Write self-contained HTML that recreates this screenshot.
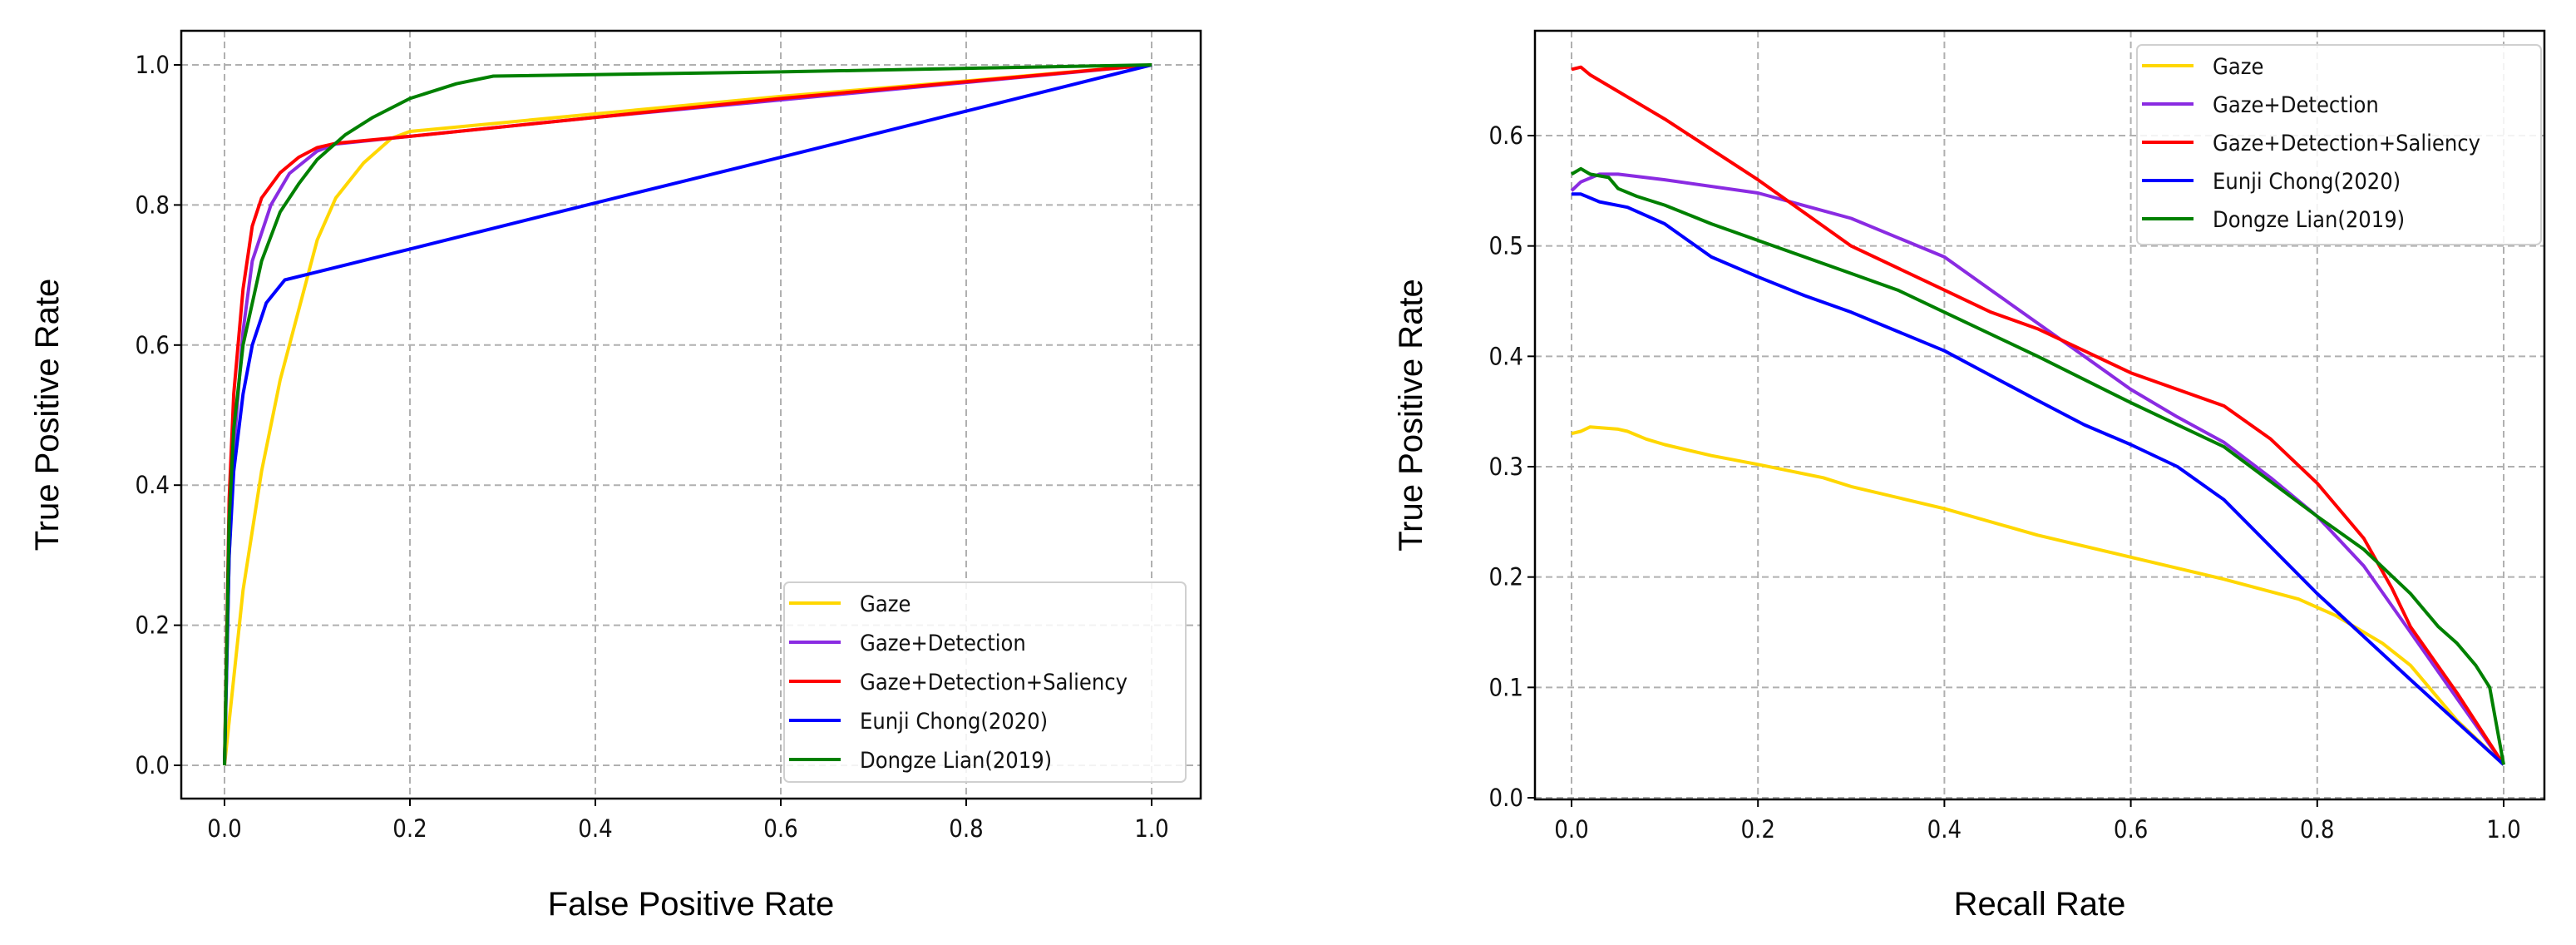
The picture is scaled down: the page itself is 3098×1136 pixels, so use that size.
<!DOCTYPE html>
<html><head><meta charset="utf-8"><style>
body{margin:0;background:#fff;}
svg{display:block;font-family:"DejaVu Sans Condensed","Liberation Sans Narrow","Liberation Sans",sans-serif;}
.tick{font-size:29px;fill:#111;}
.lab{font-size:40px;fill:#000;font-family:"Liberation Sans",sans-serif;}
.leg{font-size:27px;fill:#111;}
</style></head><body>
<svg id="c" width="3098" height="1136" viewBox="0 0 3098 1136" xmlns="http://www.w3.org/2000/svg"></svg>
<script>
const names=["Gaze","Gaze+Detection","Gaze+Detection+Saliency","Eunji Chong(2020)","Dongze Lian(2019)"];
const colors=["#ffd700","#8a2be2","#ff0000","#0000ff","#008000"];
const rocGaze=[[0,0],[0.02,0.25],[0.04,0.42],[0.06,0.55],[0.08,0.65],[0.1,0.75],[0.12,0.81],[0.15,0.86],[0.18,0.895],[0.2,0.905],[0.4,0.93],[0.6,0.955],[0.8,0.977],[1,1]];
const rocGD=[[0,0],[0.005,0.3],[0.01,0.45],[0.02,0.62],[0.03,0.72],[0.05,0.8],[0.07,0.845],[0.1,0.877],[0.12,0.887],[0.2,0.898],[0.4,0.925],[0.6,0.95],[0.8,0.975],[1,1]];
const rocGDS=[[0,0],[0.005,0.38],[0.01,0.53],[0.02,0.68],[0.03,0.77],[0.04,0.81],[0.06,0.846],[0.08,0.868],[0.1,0.882],[0.12,0.888],[0.2,0.898],[0.4,0.925],[0.6,0.952],[0.8,0.976],[1,1]];
const rocChong=[[0,0],[0.005,0.3],[0.01,0.42],[0.02,0.53],[0.03,0.6],[0.045,0.66],[0.065,0.693],[0.2,0.737],[0.4,0.803],[0.6,0.868],[0.8,0.934],[1,1]];
const rocLian=[[0,0],[0.005,0.35],[0.01,0.48],[0.02,0.6],[0.04,0.72],[0.06,0.79],[0.08,0.83],[0.1,0.865],[0.13,0.9],[0.16,0.925],[0.2,0.952],[0.25,0.973],[0.29,0.984],[0.6,0.99],[1,1]];
const prGaze=[[0,0.33],[0.01,0.332],[0.02,0.336],[0.05,0.334],[0.06,0.332],[0.08,0.325],[0.1,0.32],[0.15,0.31],[0.2,0.302],[0.27,0.29],[0.3,0.282],[0.4,0.262],[0.5,0.238],[0.6,0.218],[0.7,0.198],[0.78,0.18],[0.82,0.165],[0.87,0.14],[0.9,0.12],[0.95,0.07],[1,0.03]];
const prGD=[[0,0.55],[0.01,0.558],[0.03,0.565],[0.05,0.565],[0.1,0.56],[0.2,0.548],[0.3,0.525],[0.4,0.49],[0.45,0.46],[0.5,0.43],[0.55,0.4],[0.6,0.37],[0.65,0.345],[0.7,0.322],[0.75,0.29],[0.8,0.255],[0.85,0.21],[0.9,0.15],[0.95,0.09],[1,0.03]];
const prGDS=[[0,0.66],[0.01,0.662],[0.02,0.655],[0.05,0.64],[0.1,0.615],[0.2,0.56],[0.3,0.5],[0.4,0.46],[0.45,0.44],[0.5,0.425],[0.55,0.405],[0.6,0.385],[0.7,0.355],[0.75,0.325],[0.8,0.285],[0.85,0.235],[0.88,0.19],[0.9,0.155],[0.95,0.095],[1,0.03]];
const prChong=[[0,0.547],[0.01,0.547],[0.03,0.54],[0.06,0.535],[0.1,0.52],[0.15,0.49],[0.2,0.472],[0.25,0.455],[0.3,0.44],[0.4,0.405],[0.5,0.36],[0.55,0.338],[0.6,0.32],[0.65,0.3],[0.7,0.27],[0.8,0.185],[0.9,0.107],[1,0.03]];
const prLian=[[0,0.565],[0.01,0.57],[0.02,0.565],[0.04,0.562],[0.05,0.552],[0.07,0.545],[0.1,0.537],[0.15,0.52],[0.2,0.505],[0.3,0.475],[0.35,0.46],[0.4,0.44],[0.5,0.4],[0.6,0.358],[0.7,0.318],[0.8,0.255],[0.85,0.225],[0.9,0.185],[0.93,0.155],[0.95,0.14],[0.97,0.12],[0.985,0.1],[1,0.03]];
const xTicks=[0,0.2,0.4,0.6,0.8,1.0];
const rocYTicks=[0,0.2,0.4,0.6,0.8,1.0];
const prYTicks=[0,0.1,0.2,0.3,0.4,0.5,0.6];

const NS="http://www.w3.org/2000/svg";
const svg=document.getElementById('c');
function mk(tag,attrs,parent,txt){const e=document.createElementNS(NS,tag);for(const k in attrs)e.setAttribute(k,attrs[k]);if(txt!==undefined)e.textContent=txt;(parent||svg).appendChild(e);return e;}

function panel(o){
  const g=mk('g',{});
  
  
  const sx=v=>o.x0+(v-o.xmin)*(o.x1-o.x0)/(o.xmax-o.xmin);
  const sy=v=>o.y0+(v-o.ymin)*(o.y1-o.y0)/(o.ymax-o.ymin);
  xTicks.forEach(t=>{
    const l=mk('line',{x1:sx(t),x2:sx(t),y1:o.top,y2:o.bot,stroke:'#b0b0b0','stroke-width':2,'stroke-dasharray':'8,5'},g);
    
    mk('line',{x1:sx(t),x2:sx(t),y1:o.bot,y2:o.bot+9,stroke:'#000','stroke-width':2},g);
    const tx=mk('text',{x:sx(t),y:o.bot+46,'text-anchor':'middle',class:'tick'},g,t.toFixed(1));
    
  });
  o.yt.forEach(t=>{
    const l=mk('line',{x1:o.left,x2:o.right,y1:sy(t),y2:sy(t),stroke:'#b0b0b0','stroke-width':2,'stroke-dasharray':'8,5'},g);
    
    mk('line',{x1:o.left-9,x2:o.left,y1:sy(t),y2:sy(t),stroke:'#000','stroke-width':2},g);
    const tx=mk('text',{x:o.left-14,y:sy(t)+10,'text-anchor':'end',class:'tick'},g,t.toFixed(1));
    
  });
  o.series.forEach((s,i)=>{
    const p=mk('polyline',{points:s.map(d=>sx(d[0]).toFixed(1)+','+sy(d[1]).toFixed(1)).join(' '),fill:'none',stroke:colors[i],'stroke-width':4,'stroke-linejoin':'round'},g);
    
    
  });
  const fr=mk('rect',{x:o.left,y:o.top,width:o.right-o.left,height:o.bot-o.top,fill:'none',stroke:'#000','stroke-width':2.5},g);
  
  const xl=mk('text',{x:(o.left+o.right)/2,y:1100,'text-anchor':'middle',class:'lab'},g,o.xlab);
  
  const yx=o.ylx, ycy=(o.top+o.bot)/2;
  const yl=mk('text',{x:yx,y:ycy,'text-anchor':'middle',class:'lab',transform:`rotate(-90 ${yx} ${ycy})`},g,'True Positive Rate');
  
  const L=o.leg;
  const lg=mk('g',{},g);
  
  mk('rect',{x:L.x,y:L.y,width:L.w,height:L.h,rx:6,fill:'rgba(255,255,255,0.85)',stroke:'#d0d0d0','stroke-width':2},lg);
  names.forEach((n,i)=>{
    const cy=L.y+25+i*L.dy;
    const e=mk('g',{},lg);
    
    mk('line',{x1:L.x+6,x2:L.x+68,y1:cy,y2:cy,stroke:colors[i],'stroke-width':4},e);
    mk('text',{x:L.x+91,y:cy+10,class:'leg'},e,n);
  });
}
panel({id:'roc-chart',x0:270,x1:1385,xmin:0,xmax:1,y0:920,y1:78,ymin:0,ymax:1,left:218,right:1444,top:37,bot:960,yt:rocYTicks,
  series:[rocGaze,rocGD,rocGDS,rocChong,rocLian],xlab:'False Positive Rate',ylx:70,
  leg:{x:943,y:700,w:483,h:240,dy:47}});
panel({id:'pr-chart',x0:1890,x1:3011,xmin:0,xmax:1,y0:959,y1:163,ymin:0,ymax:0.6,left:1846,right:3060,top:37,bot:961,yt:prYTicks,
  series:[prGaze,prGD,prGDS,prChong,prLian],xlab:'Recall Rate',ylx:1710,
  leg:{x:2570,y:54,w:486,h:240,dy:46}});
</script>
</body></html>
